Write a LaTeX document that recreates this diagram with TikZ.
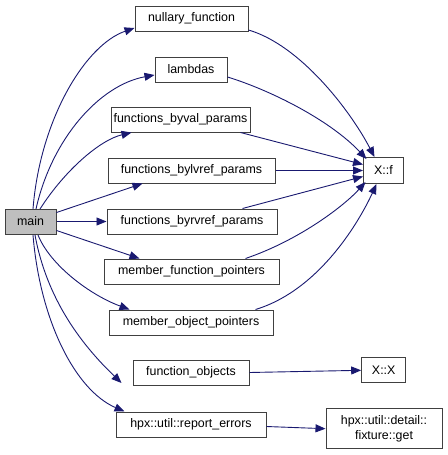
\documentclass[tikz,border=0pt]{standalone}
\usepackage{fontspec}
\setmainfont{Liberation Sans}
\usetikzlibrary{arrows.meta}
\definecolor{edgec}{HTML}{191970}
\definecolor{boxc}{HTML}{404040}
\tikzset{
  fn/.style={draw=boxc, line width=1pt, fill=white, inner sep=0pt, minimum height=25pt,
    font=\fontsize{12.4}{14}\selectfont, align=center, text=black},
  edge/.style={draw=edgec, line width=0.9pt, -{Triangle[length=10pt,width=8pt]}},
}
\begin{document}
\begin{tikzpicture}[x=1pt,y=-1pt]
\useasboundingbox (0,0) rectangle (447,455);
\node[fn, fill={rgb,255:red,191;green,191;blue,191}, minimum width=51pt] (main) at (30.5,221.5) {main};
\node[fn, minimum width=113pt] (nul) at (191.5,18.5) {nullary\_function};
\node[fn, minimum width=72pt] (lam) at (191,69.5) {lambdas};
\node[fn, minimum width=139pt] (bval) at (180.5,119.5) {functions\_byval\_params};
\node[fn, minimum width=167pt] (blv) at (191.5,170.5) {functions\_bylvref\_params};
\node[fn, minimum width=170pt] (brv) at (192,221.5) {functions\_byrvref\_params};
\node[fn, minimum width=175pt] (mfp) at (191.5,271.5) {member\_function\_pointers};
\node[fn, minimum width=164pt] (mop) at (191,322.5) {member\_object\_pointers};
\node[fn, minimum width=116pt] (fo) at (191,372.5) {function\_objects};
\node[fn, minimum width=150pt] (rep) at (191,424.5) {hpx::util::report\_errors};
\node[fn, minimum width=40pt, minimum height=26pt] (xf) at (383.5,170.5) {X::f};
\node[fn, minimum width=44pt] (xx) at (383.7,370.3) {X::X};
\node[fn, minimum width=116pt, minimum height=40pt, font=\fontsize{12.4}{15}\selectfont] (fix) at (384,428.7) {hpx::util::detail::\\fixture::get};
% main -> callees
\coordinate (m1) at (33,209);
\coordinate (m2) at (36,209);
\coordinate (m3) at (40,209);
\draw[edge] (m1) .. controls (40,120) and (85,45) .. ([yshift=-9.5pt]nul.west);
\draw[edge] (m2) .. controls (52,138) and (100,85) .. ([yshift=-5.5pt]lam.west);
\draw[edge] (m3) .. controls (65,170) and (100,140) .. ([xshift=21pt]bval.south west);
\draw[edge] ([yshift=9pt]main.east) -- ([xshift=35pt]blv.south west);
\draw[edge] (main.east) -- (brv.west);
\draw[edge] ([yshift=-9pt]main.east) -- ([xshift=36pt]mfp.north west);
\coordinate (b1) at (38,235);
\coordinate (b2) at (35,235);
\coordinate (b3) at (33,235);
\draw[edge] (b1) .. controls (50,265) and (90,295) .. ([xshift=21pt]mop.north west);
\draw[edge] (b2) .. controls (47,300) and (82,345) .. ([xshift=-11pt,yshift=-10.5pt]fo.west);
\draw[edge] (b3) .. controls (40,320) and (75,390) .. ([xshift=9pt]rep.north west);
% -> X::f
\draw[edge] ([yshift=-11.5pt]nul.east) .. controls (300,45) and (350,110) .. ([xshift=-9pt]xf.north);
\draw[edge] ([yshift=-7.5pt]lam.east) .. controls (270,90) and (330,120) .. ([xshift=-17pt,yshift=-2pt]xf.north);
\draw[edge] ([xshift=-10pt]bval.south east) -- ([yshift=6pt]xf.west);
\draw[edge] (blv.east) -- (xf.west);
\draw[edge] ([xshift=-35pt]brv.north east) -- ([yshift=-6pt]xf.west);
\draw[edge] ([xshift=-34pt]mfp.north east) .. controls (300,240) and (345,205) .. ([xshift=-18pt,yshift=2pt]xf.south);
\draw[edge] ([xshift=-18pt]mop.north east) .. controls (320,290) and (360,220) .. ([xshift=-7pt]xf.south);
% others
\draw[edge] (fo.east) -- (xx.west);
\draw[edge] ([yshift=-2pt]rep.east) -- (fix.west);
\end{tikzpicture}
\end{document}
